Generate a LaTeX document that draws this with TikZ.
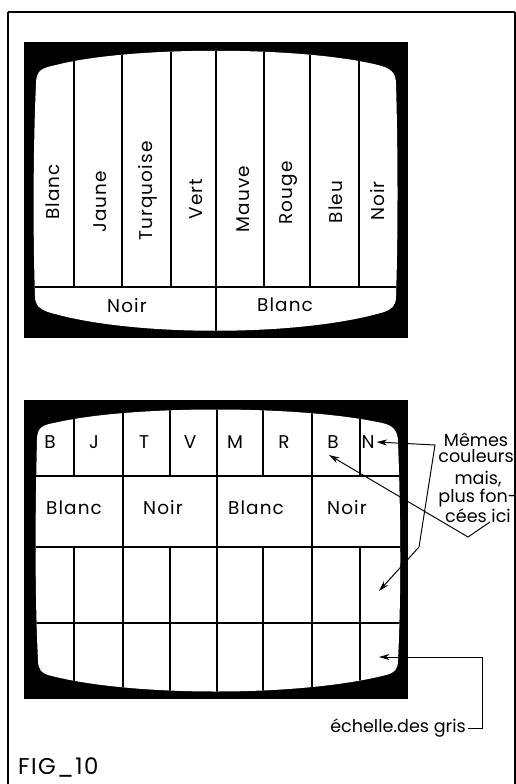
\documentclass[tikz,border=0pt]{standalone}
\usepackage{fontspec}
\setmainfont{Poppins}[LetterSpace=6]
\newfontfamily\notefont{Poppins}
\usetikzlibrary{arrows.meta, positioning}

\begin{document}
\begin{tikzpicture}[x=0.02cm, y=-0.02cm,
        lab/.style={font=\fontsize{10.5}{11}\selectfont, inner sep=1pt},
        vlab/.style={lab, rotate=90},
        note/.style={font=\notefont\fontsize{10}{9}\selectfont, align=center, inner sep=1pt},
        grid/.style={line width=0.75pt},
        arr/.style={line width=0.55pt, -{Stealth[length=6pt, width=3.5pt]}}
      ]
        \useasboundingbox (0,0) rectangle (516,784);
        % frame
        \draw[line width=1.5pt] (8,784) -- (8,12);
        \draw[line width=1.1pt] (8,12) -- (515,12);
        \draw[line width=0.6pt] (515,12) -- (515,784);

        % upper screen
        \fill (24,42) rectangle (408,338);
        \def\scrA{(36,84) .. controls (36,70) and (42,68) .. (56,65)
          .. controls (130,46) and (300,46) .. (378,65)
          .. controls (390,68) and (396,72) .. (396,84)
          .. controls (398,150) and (398,240) .. (396,296)
          .. controls (396,306) and (392,309) .. (384,312)
          .. controls (300,337) and (130,337) .. (48,312)
          .. controls (40,309) and (35,306) .. (35,296)
          .. controls (33,240) and (33,150) .. (36,84) -- cycle}
        \fill[white] \scrA;
        \begin{scope}
          \clip \scrA;
          \draw[grid] (74,40) -- (74,287); \draw[grid] (122,40) -- (122,287);
          \draw[grid] (171,40) -- (171,287); \draw[grid] (216,40) -- (216,340);
          \draw[grid] (264,40) -- (264,287); \draw[grid] (310,40) -- (310,287);
          \draw[grid] (359,40) -- (359,287);
          \draw[grid] (20,287) -- (410,287);
        \end{scope}
        \node[vlab] (blancA) at (53,192) {Blanc};
        \node[vlab] (jauneA) at (100,202) {Jaune};
        \node[vlab] (turqA) at (148,191) {Turquoise};
        \node[vlab] (vertA) at (196,199) {Vert};
        \node[vlab] (mauveA) at (243,199) {Mauve};
        \node[vlab] (rougeA) at (289,193) {Rouge};
        \node[vlab] (bleuA) at (336,202) {Bleu};
        \node[vlab] (noirA) at (378,201) {Noir};
        \node[lab] (noirB) at (127,306) {Noir};
        \node[lab] (blancB) at (285,305) {Blanc};

        % lower screen
        \fill (24,400) rectangle (408,699);
        \def\scrB{(37,440) .. controls (37,428) and (42,425) .. (54,423)
          .. controls (130,405) and (300,405) .. (382,423)
          .. controls (392,425) and (398,430) .. (398,442)
          .. controls (401,520) and (401,600) .. (398,660)
          .. controls (398,670) and (394,673) .. (386,675)
          .. controls (300,697) and (130,697) .. (48,675)
          .. controls (42,673) and (38,670) .. (38,660)
          .. controls (35,600) and (35,520) .. (37,440) -- cycle}
        \fill[white] \scrB;
        \begin{scope}
          \clip \scrB;
          \draw[grid] (123,400) -- (123,700); \draw[grid] (217,400) -- (217,700);
          \draw[grid] (312,400) -- (312,700);
          \draw[grid] (74,400) -- (74,476); \draw[grid] (170,400) -- (170,476);
          \draw[grid] (263,400) -- (263,476); \draw[grid] (360,400) -- (360,476);
          \draw[grid] (74,547) -- (74,700); \draw[grid] (170,547) -- (170,700);
          \draw[grid] (263,547) -- (263,700); \draw[grid] (360,547) -- (360,700);
          \draw[grid] (20,476) -- (410,476); \draw[grid] (20,547) -- (410,547);
          \draw[grid] (20,623) -- (410,623);
        \end{scope}
        \node[lab] (b1) at (50,442) {B};
        \node[lab] (j1) at (94,442) {J};
        \node[lab] (t1) at (144,442) {T};
        \node[lab] (v1) at (190,442) {V};
        \node[lab] (m1) at (235,442) {M};
        \node[lab] (r1) at (284,442) {R};
        \node[lab] (b2) at (333,442) {B};
        \node[lab] (n1) at (368,442) {N};
        \node[lab] (blanc1) at (74,508) {Blanc};
        \node[lab] (noir1) at (163,508) {Noir};
        \node[lab] (blanc2) at (256,508) {Blanc};
        \node[lab] (noir2) at (347,508) {Noir};

        % notes
        \node[note] (memes) at (476,448) {Mêmes\\couleurs};
        \node[note] (mais) at (478,497) {mais,\\plus fon-\\cées ici};
        \node[note] (gris) at (398,728) {échelle.des gris};
        \node[font=\fontsize{13}{14}\selectfont, anchor=west] (fig) at (12,768) {FIG\_10};

        \coordinate (kneeA) at (435,445);
        \coordinate (kneeB) at (419,547);
        \coordinate (tipA) at (379,591);
        \coordinate (vtx) at (468,537);
        \coordinate (armR) at (490,522);
        \coordinate (tipB) at (329,455);
        \coordinate (tipG) at (379,657);
        \draw[arr, {Stealth[length=6pt, width=3.5pt]}-{Stealth[length=6pt, width=3.5pt]}] (n1.east) -- (kneeA) -- (kneeB) -- (tipA);
        \draw[arr] (armR) -- (vtx) -- (tipB);
        \draw[arr] (gris.east) -- ++(15,0) |- (tipG);
      \end{tikzpicture}
\end{document}
